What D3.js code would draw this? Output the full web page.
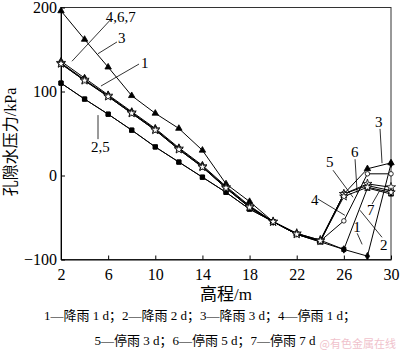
<!DOCTYPE html>
<html>
<head>
<meta charset="utf-8">
<script src="https://cdn.jsdelivr.net/npm/d3@7"></script>
<style>
  body { margin: 0; background: #fff; }
  svg { display: block; }
</style>
</head>
<body>
<div id="chart"></div>
<script>
// elevation (m)
const elev = [2, 4, 6, 8, 10, 12, 14, 16, 18, 20, 22, 24, 26, 28, 30];

// pore water pressure (kPa)
const s1 = [136, 116, 96, 76, 56, 33, 12, -13, -36, -55, -69, -77, -88, -96, 14];
const s2 = [110, 91, 73, 54, 34, 16, -2, -20, -40, -55, -70, -79, -88, -15, -22];
const s3 = [196, 162, 129, 95, 74, 56, 30, -10, -31, -55, -69, -78, -22, 8, 15];
const s4 = [133, 113, 94, 74, 54, 31, 10, -15, -38, -55, -70, -78, -54, 2, 2];
const s5 = [110, 91, 73, 54, 34, 16, -2, -20, -40, -55, -70, -79, -22, -12, -18];
const s6 = [134, 114, 95, 75, 55, 32, 11, -14, -37, -55, -69, -77, -22, -10, -14];
const s7 = [133, 113, 94, 74, 54, 31, 10, -15, -38, -55, -70, -78, -25, -14, -20];

const xTicks = [2, 6, 10, 14, 18, 22, 26, 30];
const yTicks = [-100, 0, 100, 200];

// leader labels [text, textX, textY, lineX1, lineY1, lineX2, lineY2] in data units
const notes = [
  ["4,6,7", 5.8, 183, 6.24, 186, 2.93, 136],
  ["3", 6.84, 157.6, 6.75, 159, 5.14, 145],
  ["1", 8.79, 128, 8.62, 132.7, 5.39, 106.5],
  ["2,5", 4.55, 27.8, 5.14, 43.3, 5.14, 71.9],
  ["3", 28.64, 58, 29.07, 55.5, 29.24, 14.7],
  ["6", 26.6, 21.8, 26.95, 19.4, 27.13, -21],
  ["5", 24.48, 9.9, 25.08, 6.3, 26.78, -26],
  ["4", 23.21, -35.4, 23.8, -28, 26.09, -47.4],
  ["7", 27.96, -47.4, 28.39, -34, 29.07, -17.3],
  ["1", 26.8, -67.6, 27.13, -68.8, 27.55, -82],
  ["2", 29.07, -89.1, 29.24, -73.6, 27.37, -41.4]
];

const caption1 = "1—降雨 1 d；2—降雨 2 d；3—降雨 3 d；4—停雨 1 d；";
const caption2 = "5—停雨 3 d；6—停雨 5 d；7—停雨 7 d";

(function() {
  const width = 400;
  const height = 351;
  const serif = "'Liberation Serif', 'Noto Sans CJK SC', serif";

  const svg = d3.select("#chart")
    .append("svg")
    .attr("width", width)
    .attr("height", height);

  const x = d3.scaleLinear().domain([2, 30]).range([61, 391]);
  const y = d3.scaleLinear().domain([-100, 200]).range([259.5, 7.5]);

  // frame
  svg.append("rect")
    .attr("x", x(2)).attr("y", y(200))
    .attr("width", x(30) - x(2)).attr("height", y(-100) - y(200))
    .attr("fill", "none").attr("stroke", "#333").attr("stroke-width", 1);

  // axes (ticks pointing inward)
  const xAxis = svg.append("g")
    .attr("transform", `translate(0,${y(-100)})`)
    .call(d3.axisBottom(x).tickValues(xTicks).tickSizeInner(-4).tickSizeOuter(0).tickPadding(6));
  const yAxis = svg.append("g")
    .attr("transform", `translate(${x(2)},0)`)
    .call(d3.axisLeft(y).tickValues(yTicks).tickSizeInner(-4).tickSizeOuter(0).tickPadding(4)
      .tickFormat(d => d < 0 ? "\u2212" + Math.abs(d) : d));
  [xAxis, yAxis].forEach(a => {
    a.select(".domain").attr("stroke", "#000");
    a.selectAll("line").attr("stroke", "#000");
    a.selectAll("text").attr("font-family", serif).attr("font-size", "16px").attr("fill", "#000");
  });
  xAxis.selectAll("text").attr("dy", "0.9em");

  // axis titles
  svg.append("text")
    .attr("x", x(16)).attr("y", 300)
    .attr("text-anchor", "middle")
    .attr("font-family", serif).attr("font-size", "17px")
    .text("高程/m");

  svg.append("text")
    .attr("transform", "translate(16,142) rotate(-90)")
    .attr("text-anchor", "middle")
    .attr("font-family", serif).attr("font-size", "16px")
    .text("孔隙水压力/kPa");

  // series
  const series = [
    { v: s1, sym: d3.symbolDiamond, size: 16, fill: "#000" },
    { v: s2, sym: d3.symbolSquare, size: 18, fill: "#000" },
    { v: s5, sym: d3.symbolSquare, size: 18, fill: "#000" },
    { v: s3, sym: d3.symbolTriangle, size: 18, fill: "#000" },
    { v: s4, sym: d3.symbolCircle, size: 16, fill: "#fff" },
    { v: s6, sym: d3.symbolStar, size: 26, fill: "#fff" },
    { v: s7, sym: d3.symbolStar, size: 22, fill: "#fff" }
  ];

  const line = d3.line()
    .x((d, i) => x(elev[i]))
    .y(d => y(d));

  series.forEach(s => {
    svg.append("path")
      .datum(s.v)
      .attr("d", line)
      .attr("fill", "none")
      .attr("stroke", "#000")
      .attr("stroke-width", 1);
  });

  series.forEach(s => {
    svg.append("g").selectAll("path")
      .data(s.v)
      .join("path")
      .attr("transform", (d, i) => `translate(${x(elev[i])},${y(d)})`)
      .attr("d", d3.symbol().type(s.sym).size(s.size))
      .attr("fill", s.fill)
      .attr("stroke", "#000")
      .attr("stroke-width", 0.8);
  });

  // leader labels
  const ng = svg.append("g");
  notes.forEach(n => {
    ng.append("line")
      .attr("x1", x(n[3])).attr("y1", y(n[4]))
      .attr("x2", x(n[5])).attr("y2", y(n[6]))
      .attr("stroke", "#000").attr("stroke-width", 0.8);
    ng.append("text")
      .attr("x", x(n[1])).attr("y", y(n[2]))
      .attr("font-family", serif).attr("font-size", "15px")
      .text(n[0]);
  });

  // caption
  svg.append("text")
    .attr("x", 200).attr("y", 320)
    .attr("text-anchor", "middle")
    .attr("font-family", serif).attr("font-size", "13px")
    .text(caption1);
  svg.append("text")
    .attr("x", 205).attr("y", 345)
    .attr("text-anchor", "middle")
    .attr("font-family", serif).attr("font-size", "13px")
    .text(caption2);

  // watermark
  svg.append("text")
    .attr("x", 396).attr("y", 348)
    .attr("text-anchor", "end")
    .attr("font-family", "'Noto Sans CJK SC', sans-serif").attr("font-size", "11px")
    .attr("fill", "#f0c2cc")
    .text("@有色金属在线");
})();
</script>
</body>
</html>
